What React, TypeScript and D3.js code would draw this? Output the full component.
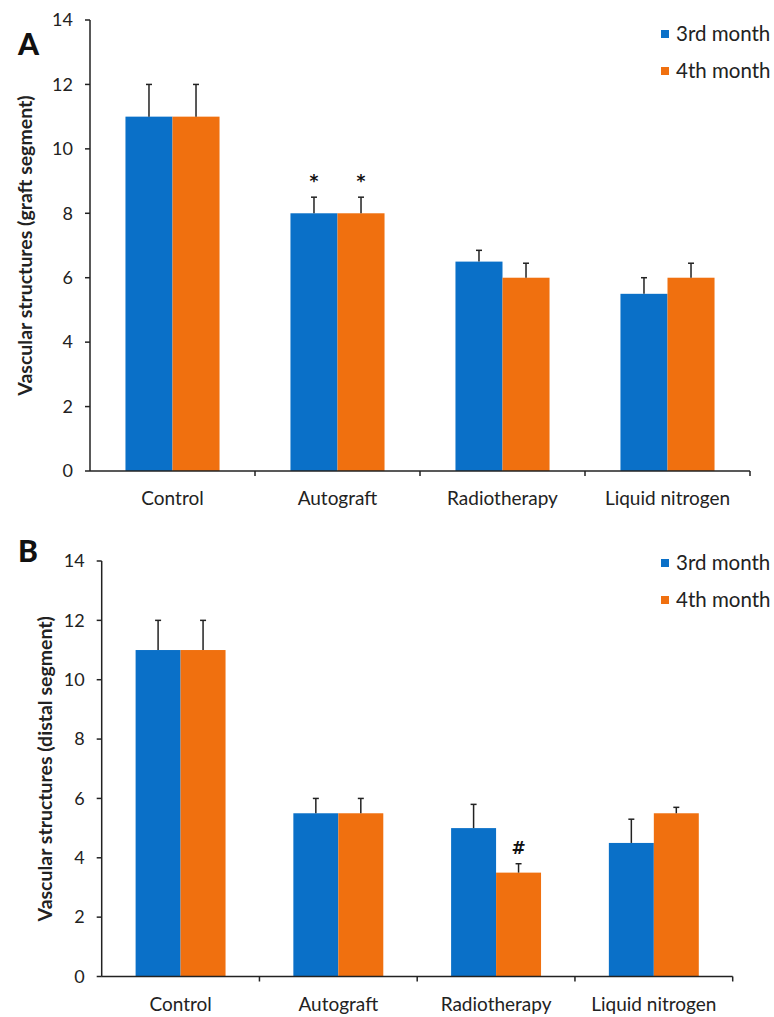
import React from 'react';
import * as d3 from 'd3';

const categories = ['Control', 'Autograft', 'Radiotherapy', 'Liquid nitrogen'];
const seriesNames = ['3rd month', '4th month'];
const colors = ['#0a70c8', '#f0700f'];
const yTicks = [0, 2, 4, 6, 8, 10, 12, 14];

// panel A (graft segment)
const graft3rd = [11, 8, 6.5, 5.5];
const graft4th = [11, 8, 6, 6];
const graft3rdErr = [12, 8.5, 6.85, 6];
const graft4thErr = [12, 8.5, 6.45, 6.45];
const graftMarks = [null, '*', null, null];
const graftMarks4 = [null, '*', null, null];

// panel B (distal segment)
const distal3rd = [11, 5.5, 5, 4.5];
const distal4th = [11, 5.5, 3.5, 5.5];
const distal3rdErr = [12, 6, 5.8, 5.3];
const distal4thErr = [12, 6, 3.8, 5.7];
const distalMarks = [null, null, null, null];
const distalMarks4 = [null, null, '#', null];

const font = 'Lato, "Open Sans", sans-serif';

type PanelProps = {
  letter: string;
  yLabel: string;
  top: number;
  bottom: number;
  left: number;
  right: number;
  labelX: number;
  letterY: number;
  legendY: number;
  values: number[][];
  errs: number[][];
  marks: (string | null)[][];
};

const Panel = ({ letter, yLabel, top, bottom, left, right, labelX, letterY, legendY, values, errs, marks }: PanelProps) => {
  const y = d3.scaleLinear().domain([0, 14]).range([bottom, top]);
  const x = d3.scaleBand().domain(categories).range([left, right]).paddingInner(0).paddingOuter(0);
  // two bars take ~57% of each category slot
  const inner = d3.scaleBand().domain(seriesNames).range([0, x.bandwidth()]).paddingInner(0).paddingOuter(0.754);
  const bw = inner.bandwidth();

  return (
    <g>
      <text x={18} y={letterY} fontFamily={font} fontWeight={900} fontSize={30} fill="#111">
        {letter}
      </text>
      <text
        transform={`translate(${labelX},${(top + bottom) / 2}) rotate(-90)`}
        textAnchor="middle"
        fontFamily={font}
        fontWeight={700}
        fontSize={19.5}
        fill="#222"
      >
        {yLabel}
      </text>
      {categories.map((c, i) =>
        seriesNames.map((s, j) => {
          const bx = (x(c) as number) + (inner(s) as number);
          const v = values[j][i];
          const e = errs[j][i];
          const cx = bx + bw / 2;
          return (
            <g key={c + s}>
              <rect x={bx} y={y(v)} width={bw} height={y(0) - y(v)} fill={colors[j]} />
              <line x1={cx} x2={cx} y1={y(v)} y2={y(e)} stroke="#222" strokeWidth={1.5} />
              <line x1={cx - 3} x2={cx + 3} y1={y(e)} y2={y(e)} stroke="#222" strokeWidth={1.5} />
              {marks[j][i] && (
                <text
                  x={cx}
                  y={y(e) - 10}
                  textAnchor="middle"
                  fontFamily='"DejaVu Sans", sans-serif'
                  fontWeight={700}
                  fontSize={17}
                  fill="#111"
                >
                  {marks[j][i]}
                </text>
              )}
            </g>
          );
        })
      )}
      {/* y axis */}
      <line x1={left} x2={left} y1={top} y2={bottom} stroke="#222" strokeWidth={1.5} />
      {yTicks.map((t) => (
        <g key={t}>
          <line x1={left - 5} x2={left} y1={y(t)} y2={y(t)} stroke="#222" strokeWidth={1.5} />
          <text
            x={left - 17}
            y={y(t)}
            dy="0.35em"
            textAnchor="end"
            fontFamily={font}
            fontSize={18}
            fill="#222"
          >
            {t}
          </text>
        </g>
      ))}
      {/* x axis */}
      <line x1={left} x2={right} y1={bottom} y2={bottom} stroke="#222" strokeWidth={1.5} />
      {categories.map((c) => (
        <g key={c}>
          <line
            x1={(x(c) as number) + x.bandwidth()}
            x2={(x(c) as number) + x.bandwidth()}
            y1={bottom}
            y2={bottom + 5}
            stroke="#222"
            strokeWidth={1.5}
          />
          <text
            x={(x(c) as number) + x.bandwidth() / 2}
            y={bottom + 34}
            textAnchor="middle"
            fontFamily={font}
            fontSize={19}
            fill="#222"
          >
            {c}
          </text>
        </g>
      ))}
      {/* legend */}
      {seriesNames.map((s, j) => (
        <g key={s} transform={`translate(661,${legendY + j * 37})`}>
          <rect x={0} y={-4} width={8} height={8} fill={colors[j]} />
          <text x={15} y={0} dy="0.35em" fontFamily={font} fontSize={20.5} fill="#222">
            {s}
          </text>
        </g>
      ))}
    </g>
  );
};

const App = () => {
  const width = 774;
  const height = 1017;
  return (
    <svg
      width={width}
      height={height}
      style={{ position: 'absolute', left: 0, top: 0, background: '#fff' }}
    >
      <Panel
        letter="A"
        yLabel="Vascular structures (graft segment)"
        top={20}
        bottom={471}
        left={90}
        right={750}
        labelX={32}
        letterY={55}
        legendY={34}
        values={[graft3rd, graft4th]}
        errs={[graft3rdErr, graft4thErr]}
        marks={[graftMarks, graftMarks4]}
      />
      <Panel
        letter="B"
        yLabel="Vascular structures (distal segment)"
        top={561}
        bottom={976.5}
        left={101.7}
        right={732.7}
        labelX={52}
        letterY={562}
        legendY={563}
        values={[distal3rd, distal4th]}
        errs={[distal3rdErr, distal4thErr]}
        marks={[distalMarks, distalMarks4]}
      />
    </svg>
  );
};

export default App;
